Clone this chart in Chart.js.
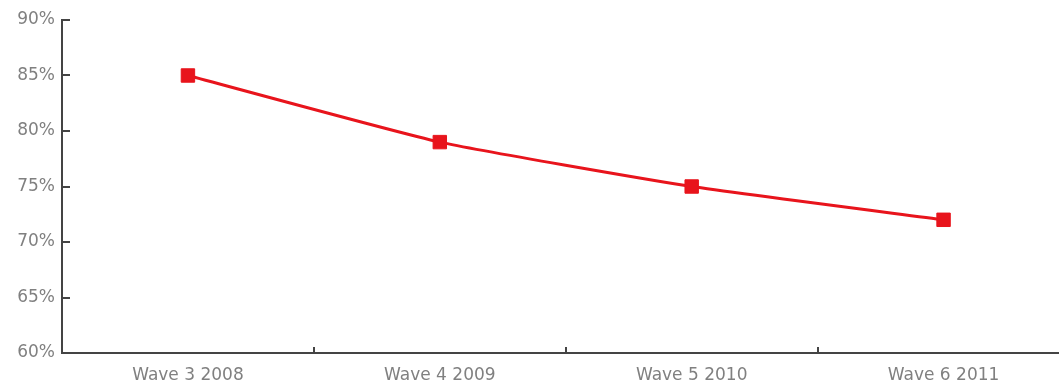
<!DOCTYPE html>
<html>
<head>
<meta charset="utf-8">
<script src="https://cdn.jsdelivr.net/npm/chart.js@4/dist/chart.umd.min.js"></script>
<style>
  html, body { margin: 0; padding: 0; background: #fff; overflow: hidden; }
  #wrap { width: 1080px; height: 385px; position: relative; }
</style>
</head>
<body>
<div id="wrap"><canvas id="lineChart"></canvas></div>
<script>
var waves = ['Wave 3 2008', 'Wave 4 2009', 'Wave 5 2010', 'Wave 6 2011'];
var shares = [85, 79, 75, 72];
var yMin = 60, yMax = 90, yStep = 5;

// short tick marks drawn inside the plot, like the original
var innerTicks = {
  id: 'innerTicks',
  afterDraw: function(chart) {
    var ctx = chart.ctx;
    var area = chart.chartArea;
    var x = chart.scales.x, y = chart.scales.y;
    ctx.save();
    ctx.strokeStyle = '#444';
    ctx.lineWidth = 2;
    ctx.beginPath();
    y.ticks.forEach(function(t) {
      if (t.value === yMin) return;
      var py = Math.round(y.getPixelForValue(t.value));
      ctx.moveTo(area.left, py);
      ctx.lineTo(area.left + 8, py);
    });
    for (var i = 0; i < waves.length - 1; i++) {
      var px = Math.round((x.getPixelForValue(i) + x.getPixelForValue(i + 1)) / 2);
      ctx.moveTo(px, area.bottom);
      ctx.lineTo(px, area.bottom - 6);
    }
    ctx.stroke();
    ctx.restore();
  }
};

var ctx = document.getElementById('lineChart').getContext('2d');
new Chart(ctx, {
  type: 'line',
  data: {
    labels: waves,
    datasets: [{
      data: shares,
      borderColor: '#e8141c',
      backgroundColor: '#e8141c',
      borderWidth: 3,
      tension: 0.15,
      pointStyle: 'rect',
      pointRadius: 9.5,
      pointBorderWidth: 1,
      pointBorderColor: '#e8141c',
      pointBackgroundColor: '#e8141c'
    }]
  },
  options: {
    responsive: true,
    maintainAspectRatio: false,
    animation: false,
    layout: { padding: { top: 20, right: 2, bottom: 0, left: 0 } },
    plugins: {
      legend: { display: false },
      tooltip: { enabled: false }
    },
    scales: {
      x: {
        offset: true,
        grid: { display: false, drawTicks: false },
        border: { display: true, color: '#444', width: 2 },
        ticks: {
          padding: 12,
          color: '#808080',
          font: { family: 'DejaVu Sans', size: 17 },
          maxRotation: 0
        },
        afterFit: function(scale) { scale.height = 32; }
      },
      y: {
        min: yMin,
        max: yMax,
        grid: { display: false, drawTicks: false },
        border: { display: true, color: '#444', width: 2 },
        ticks: {
          stepSize: yStep,
          padding: 7,
          color: '#808080',
          font: { family: 'DejaVu Sans', size: 17 },
          callback: function(v) { return v + '%'; }
        },
        afterFit: function(scale) { scale.width = 62; }
      }
    }
  },
  plugins: [innerTicks]
});
</script>
</body>
</html>
